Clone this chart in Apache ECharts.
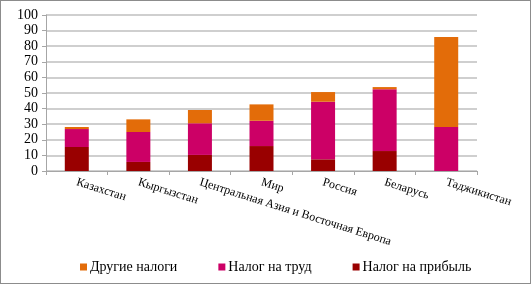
<!DOCTYPE html>
<html>
<head>
<meta charset="utf-8">
<script src="https://cdn.jsdelivr.net/npm/echarts@6/dist/echarts.min.js"></script>
<style>
    html, body { margin: 0; padding: 0; background: #fff; }
    #chart { width: 531px; height: 284px; box-sizing: border-box; border: 1px solid #8c8c8c; }
</style>
</head>
<body>
<div id="chart"></div>
<script>
var categories = ['Казахстан', 'Кыргызстан', 'Центральная Азия и Восточная Европа', 'Мир', 'Россия', 'Беларусь', 'Таджикистан'];
var profitTax = [15.4, 5.8, 10.3, 16.0, 7.5, 12.8, 0];
var laborTax = [11.5, 19.2, 20.3, 16.2, 36.9, 39.6, 28.2];
var otherTax = [1.3, 8.1, 8.5, 10.5, 6.2, 1.4, 57.7];
var yTicks = [0, 10, 20, 30, 40, 50, 60, 70, 80, 90, 100];

var serif = '"Liberation Serif", "DejaVu Serif", serif';
var myChart = echarts.init(document.getElementById('chart'));

function barSeries(name, data, color) {
    return {
        name: name,
        type: 'bar',
        stack: 'total',
        barWidth: 24,
        data: data,
        itemStyle: { color: color },
        emphasis: { disabled: true }
    };
}

myChart.setOption({
    animation: false,
    textStyle: { fontFamily: serif },
    grid: {
        left: 45,
        right: 53,
        top: 14,
        bottom: 112
    },
    legend: {
        bottom: 4,
        left: 74,
        itemWidth: 7,
        itemHeight: 7,
        itemGap: 41,
        icon: 'rect',
        textStyle: { fontFamily: serif, fontSize: 14, color: '#000', padding: [0, 0, 0, -2] },
        data: ['Другие налоги', 'Налог на труд', 'Налог на прибыль']
    },
    xAxis: {
        type: 'category',
        data: categories,
        axisLine: { lineStyle: { color: '#a6a6a6', width: 1 } },
        axisTick: { show: true, length: 4, lineStyle: { color: '#a6a6a6' } },
        axisLabel: {
            rotate: -17.5,
            interval: 0,
            margin: 11,
            fontFamily: serif,
            fontSize: 12,
            color: '#000'
        }
    },
    yAxis: {
        type: 'value',
        min: yTicks[0],
        max: yTicks[yTicks.length - 1],
        interval: 10,
        axisLine: { show: true, lineStyle: { color: '#a6a6a6' } },
        axisTick: { show: true, length: 4, lineStyle: { color: '#a6a6a6' } },
        axisLabel: { fontFamily: serif, fontSize: 14, color: '#000', margin: 8 },
        splitLine: { lineStyle: { color: '#bfbfbf', width: 1.5 } }
    },
    series: [
        barSeries('Налог на прибыль', profitTax, '#990000'),
        barSeries('Налог на труд', laborTax, '#cc0066'),
        barSeries('Другие налоги', otherTax, '#e36c09')
    ]
});
</script>
</body>
</html>
